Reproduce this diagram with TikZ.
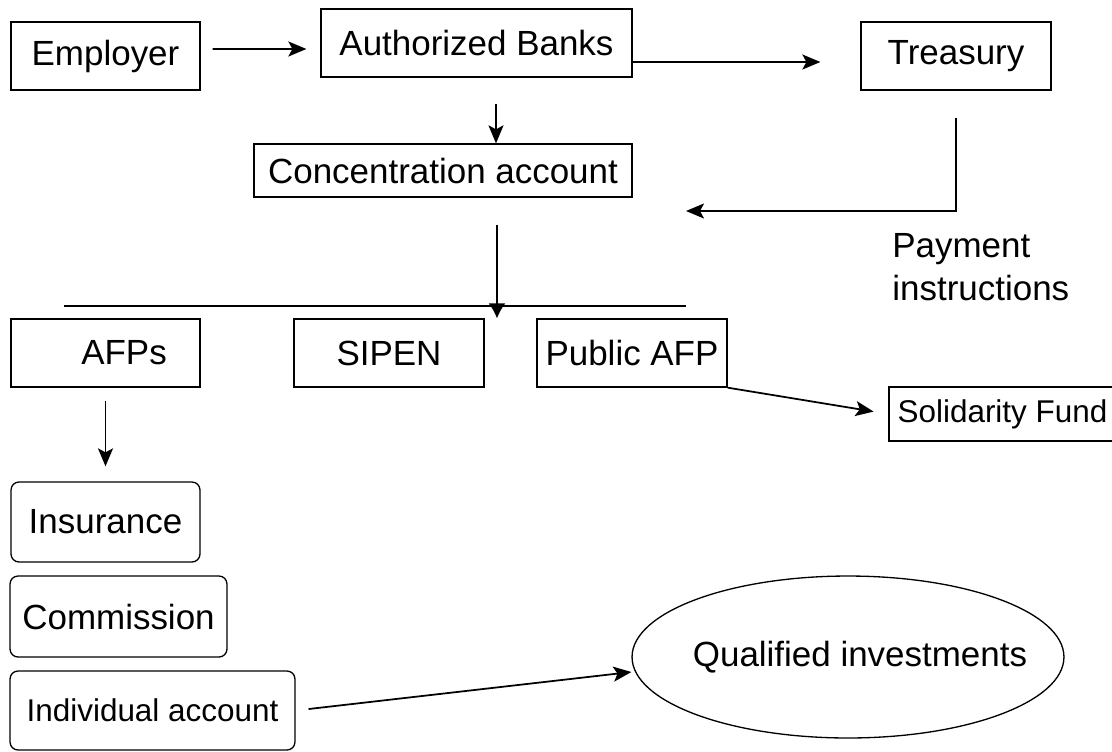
\documentclass[tikz,border=0pt]{standalone}
\usepackage{fontspec}
\setmainfont{Liberation Sans}
\usepackage{tikz}
\usetikzlibrary{shapes,arrows.meta,positioning}

\begin{document}
\begin{tikzpicture}[x=0.02cm, y=-0.02cm,
                   box/.style={draw, line width=0.75pt, inner sep=0pt, font=\fontsize{19.9}{24}\selectfont},
                   rbox/.style={box, rounded corners=0.16cm},
                   small/.style={font=\fontsize{17.9}{22}\selectfont},
                   flow/.style={line width=1pt, -{Stealth[length=0.36cm, width=0.3cm, inset=0.08cm]}},
                   drop/.style={line width=1pt, -{Latex[length=0.3cm, width=0.34cm]}}]
  \useasboundingbox (0,0) rectangle (1112,751);
  \node[box, minimum width=3.78cm, minimum height=1.36cm] (employer) at (105.5,56) {Employer};
  \node[box, minimum width=6.22cm, minimum height=1.36cm] (banks) at (476.5,43) {Authorized Banks};
  \node[box, minimum width=3.80cm, minimum height=1.36cm] (treasury) at (956,56) {Treasury};
  \node[box, minimum width=7.56cm, minimum height=1.06cm] (conc) at (443,170.5) {Concentration account};
  \node[anchor=north west, inner sep=0pt, align=left, font=\fontsize{19.9}{24.4}\selectfont] (payment) at (892,233) {Payment\\instructions};
  \node[box, minimum width=3.78cm, minimum height=1.36cm] (afps) at (105.5,353) {\hspace*{.74cm}AFPs};
  \node[box, minimum width=3.80cm, minimum height=1.36cm] (sipen) at (389,353) {SIPEN};
  \node[box, minimum width=3.80cm, minimum height=1.36cm] (public) at (632,353) {Public AFP};
  \node[box, small, minimum width=4.54cm, minimum height=1.08cm] (solidarity) at (1002.5,414) {Solidarity Fund};
  \node[rbox, minimum width=3.78cm, minimum height=1.60cm] (insurance) at (105.5,522) {Insurance};
  \node[rbox, minimum width=4.34cm, minimum height=1.62cm] (commission) at (118.5,616.5) {Commission};
  \node[rbox, small, minimum width=5.70cm, minimum height=1.58cm] (individual) at (152.5,710.5) {Individual account};
  \node[box, ellipse, minimum width=8.64cm, minimum height=3.24cm,
        label={[font=\fontsize{19.9}{24}\selectfont, xshift=.24cm]center:Qualified investments}] (qual) at (848,657) {};
  \coordinate (busL) at (64,306);
  \coordinate (busR) at (686,306);
  \coordinate (pay) at (686,211);

  \draw[flow, shorten <=.24cm, shorten >=.28cm] ([yshift=.14cm]employer.east) -- ([yshift=-.12cm]banks.west);
  \draw[flow, shorten >=.8cm] ([yshift=-.38cm]banks.east) -- ([yshift=-.12cm]treasury.west);
  \draw[flow, shorten <=.52cm] ([xshift=.39cm]banks.south) -- ([xshift=.39cm]banks.south |- conc.north);
  \draw[flow, shorten <=.54cm] (treasury.south) |- (pay);
  \draw[line width=.75pt] (busL) -- (busR);
  \draw[drop, shorten <=.54cm] ([xshift=1.08cm]conc.south) -- ([xshift=1.08cm]conc.south |- afps.north);
  \draw[flow, shorten <=.26cm, shorten >=.3cm] (afps.south) -- (insurance.north);
  \draw[flow, shorten >=.3cm] (public.south east) -- (solidarity.west);
  \draw[flow, shorten <=.26cm] (individual.east) -- ([yshift=-.3cm]qual.west);
\end{tikzpicture}
\end{document}
